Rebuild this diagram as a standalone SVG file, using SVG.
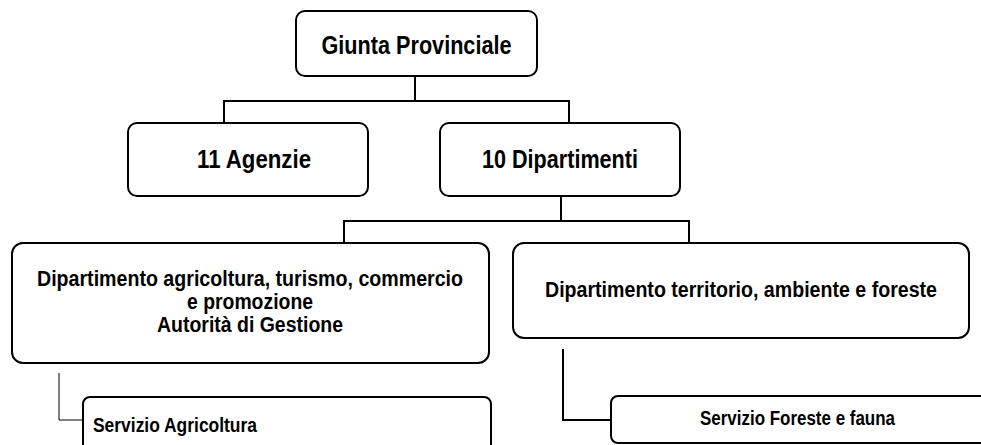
<svg xmlns="http://www.w3.org/2000/svg" width="981" height="445" viewBox="0 0 981 445">
<style>
.box{fill:#fff;stroke:#000;stroke-width:2}
.t{font-family:"Liberation Sans",Arial,sans-serif;font-weight:bold;fill:#000;text-anchor:middle}
.c{fill:none;stroke:#000;stroke-width:2}
.thin{fill:none;stroke:#000;stroke-width:1}
</style>
<rect width="981" height="445" fill="#fff"/>
<g id="connectors">
<polyline class="c" points="415,76 415,101"/>
<polyline class="c" points="224,123 224,101 569,101 569,123"/>
<polyline class="c" points="561,196 561,221"/>
<polyline class="c" points="344,243 344,221 689,221 689,243"/>
<polyline class="thin" points="59,373 59,420 83,420"/>
<polyline class="c" points="563,349 563,420 611,420"/>
</g>
<g id="giunta">
<rect class="box" x="296" y="11" width="241" height="65" rx="9"/>
<text class="t" x="416.5" y="53.5" font-size="25" textLength="190" lengthAdjust="spacingAndGlyphs">Giunta Provinciale</text>
</g>
<g id="agenzie">
<rect class="box" x="128" y="123" width="240" height="73" rx="9"/>
<text class="t" x="254" y="168" font-size="25" textLength="114" lengthAdjust="spacingAndGlyphs">11 Agenzie</text>
</g>
<g id="dipartimenti">
<rect class="box" x="440" y="123" width="240" height="73" rx="9"/>
<text class="t" x="560" y="168" font-size="25" textLength="156" lengthAdjust="spacingAndGlyphs">10 Dipartimenti</text>
</g>
<g id="dip-agricoltura">
<rect class="box" x="12" y="243" width="477" height="120" rx="11"/>
<text class="t" x="250" y="286" font-size="21.5" textLength="426" lengthAdjust="spacingAndGlyphs">Dipartimento agricoltura, turismo, commercio</text>
<text class="t" x="250" y="309" font-size="21.5" textLength="126" lengthAdjust="spacingAndGlyphs">e promozione</text>
<text class="t" x="250" y="332" font-size="21.5" textLength="186" lengthAdjust="spacingAndGlyphs">Autorità di Gestione</text>
</g>
<g id="dip-territorio">
<rect class="box" x="513" y="243" width="456" height="95" rx="11"/>
<text class="t" x="741" y="297" font-size="21.5" textLength="392" lengthAdjust="spacingAndGlyphs">Dipartimento territorio, ambiente e foreste</text>
</g>
<g id="serv-agricoltura">
<rect class="box" x="83" y="397" width="408" height="70" rx="7"/>
<text class="t" x="93" y="432" font-size="19.5" textLength="164" lengthAdjust="spacingAndGlyphs" style="text-anchor:start">Servizio Agricoltura</text>
</g>
<g id="serv-foreste">
<rect class="box" x="611" y="396" width="385" height="47" rx="7"/>
<text class="t" x="797.5" y="424.5" font-size="19.5" textLength="195" lengthAdjust="spacingAndGlyphs">Servizio Foreste e fauna</text>
</g>
</svg>
